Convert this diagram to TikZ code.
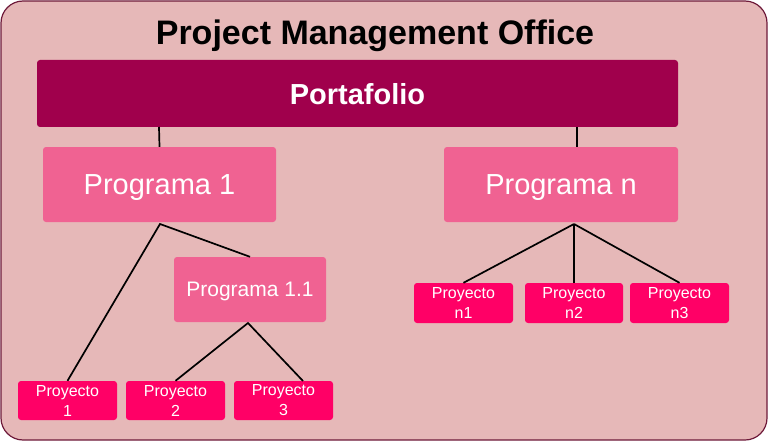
\documentclass[tikz,border=0pt]{standalone}
\usepackage{fontspec}
\setmainfont{Liberation Sans}
\definecolor{bgpink}{HTML}{E6B8B8}
\definecolor{bgborder}{HTML}{6E1A3A}
\definecolor{portcol}{HTML}{A0004C}
\definecolor{progcol}{HTML}{F06292}
\definecolor{proycol}{HTML}{FF0066}
\tikzset{
  box/.style={draw=none, rounded corners=3pt, text=white, inner sep=0pt, align=center},
  portbox/.style={box, fill=portcol, text depth=0pt, font=\fontsize{29}{32}\selectfont\bfseries},
  progbox/.style={box, fill=progcol, text depth=0pt, font=\fontsize{29}{32}\selectfont},
  subprog/.style={box, fill=progcol, text depth=0pt, font=\fontsize{21}{24}\selectfont},
  proybox/.style={box, fill=proycol, font=\fontsize{16}{20}\selectfont},
  link/.style={draw=black, line width=1.7pt}
}
\begin{document}
\begin{tikzpicture}[x=1pt,y=-1pt]
\useasboundingbox (0,0) rectangle (768,441);
\draw[fill=bgpink, draw=bgborder, line width=1.2pt, rounded corners=22pt] (1,1) rectangle (767,440);
\node[font=\fontsize{34}{36}\selectfont\bfseries, text depth=0pt, inner sep=0pt] (title) at (375,32) {Project Management Office};

\node[portbox, minimum width=641pt, minimum height=67pt] (port) at (357.5,93.5) {Portafolio};
\node[progbox, minimum width=233pt, minimum height=75pt] (p1) at (159.5,184.5) {Programa 1};
\node[progbox, minimum width=234pt, minimum height=75pt] (pn) at (561,184.5) {Programa n};
\node[subprog, minimum width=152pt, minimum height=65pt] (p11) at (250,289.5) {Programa 1.1};

\node[proybox, minimum width=99pt, minimum height=39pt] (y1) at (67.5,400.5) {Proyecto\\1};
\node[proybox, minimum width=99pt, minimum height=39pt] (y2) at (175.5,400.5) {Proyecto\\2};
\node[proybox, minimum width=99pt, minimum height=39pt] (y3) at (283.5,400.5) {Proyecto\\3};

\node[proybox, minimum width=99pt, minimum height=40pt] (n1) at (463.5,303) {Proyecto\\n1};
\node[proybox, minimum width=98pt, minimum height=40pt] (n2) at (574,303) {Proyecto\\n2};
\node[proybox, minimum width=99pt, minimum height=40pt] (n3) at (679.5,303) {Proyecto\\n3};

\coordinate (pa) at (159,127);
\coordinate (pb) at (577,127);
\coordinate (pnt) at (577,147);
\draw[link] (pa) -- (p1.north);
\draw[link] (pb) -- (pnt);
\coordinate (p1b) at (160,224);
\draw[link] (y1.north) -- (p1b) -- (p11.north);
\coordinate (p11b) at (248,323);
\coordinate (y3t) at (303,381);
\draw[link] (y2.north) -- (p11b) -- (y3t);
\coordinate (pnb) at (574,224);
\draw[link] (pnb) -- (n1.north);
\draw[link] (pnb) -- (n2.north);
\draw[link] (pnb) -- (n3.north);
\end{tikzpicture}
\end{document}
